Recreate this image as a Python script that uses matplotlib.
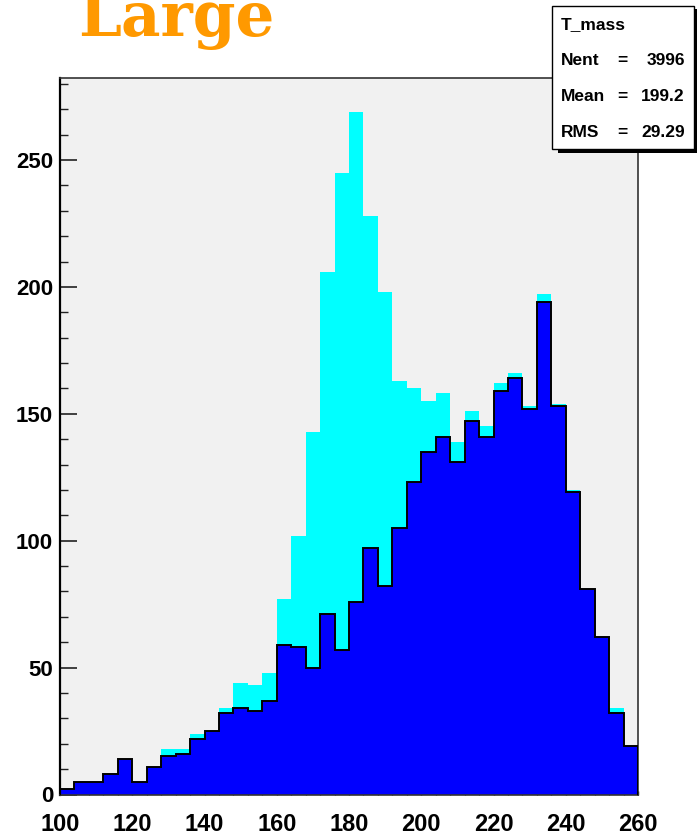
import matplotlib
matplotlib.use("Agg")
import matplotlib.pyplot as plt
from matplotlib.patches import Rectangle
from matplotlib.ticker import MultipleLocator
import numpy as np

# histogram: 40 bins of width 4 between 100 and 260
edges = np.arange(100, 264, 4)
total = [2, 5, 5, 8, 14, 5, 11, 18, 18, 24,
         25, 34, 44, 43, 48, 77, 102, 143, 206, 245,
         269, 228, 198, 163, 160, 155, 158, 139, 151, 145,
         162, 166, 153, 197, 154, 120, 81, 62, 34, 19]
subset = [2, 5, 5, 8, 14, 5, 11, 15, 16, 22,
          25, 32, 34, 33, 37, 59, 58, 50, 71, 57,
          76, 97, 82, 105, 123, 135, 141, 131, 147, 141,
          159, 164, 152, 194, 153, 119, 81, 62, 32, 19]
hist_name = "T_mass"
stats_names = ["Nent", "Mean", "RMS"]
stats_values = ["3996", "199.2", "29.29"]
title = "Large"

W, H = 697, 839
fig = plt.figure(figsize=(W / 100, H / 100), dpi=100)
fig.patch.set_facecolor("white")

# axes frame in pixel units
x0, x1, y_top, y_bot = 60, 638, 78, 794.5
ax = fig.add_axes([x0 / W, (H - y_bot) / H, (x1 - x0) / W, (y_bot - y_top) / H])
ax.set_facecolor("#f1f1f1")

ax.stairs(total, edges, fill=True, color="#00ffff", zorder=1)
ax.stairs(subset, edges, fill=True, color="#0000ff", zorder=2)
ax.stairs(subset, edges, fill=False, color="black", lw=1.4, zorder=3)

ax.set_xlim(100, 260)
ax.set_ylim(0, 282.3)

ax.xaxis.set_major_locator(MultipleLocator(20))
ax.xaxis.set_minor_locator(MultipleLocator(4))
ax.yaxis.set_major_locator(MultipleLocator(50))
ax.yaxis.set_minor_locator(MultipleLocator(10))

ax.tick_params(axis="y", which="major", direction="in", length=12, width=1.2,
               pad=5, color="#222222")
ax.tick_params(axis="y", which="minor", direction="in", length=6, width=1.0,
               color="#222222")
ax.tick_params(axis="x", which="major", direction="in", length=3, width=1.0,
               pad=13, color="#222222")
ax.tick_params(axis="x", which="minor", direction="in", length=1.5, width=0.8,
               color="#222222")
for t in ax.get_xticklabels():
    t.set_fontfamily("Liberation Sans")
    t.set_fontweight("bold")
    t.set_fontsize(17)
for t in ax.get_yticklabels():
    t.set_fontfamily("Liberation Sans")
    t.set_fontweight("bold")
    t.set_fontsize(16)

for s in ["top", "right", "bottom"]:
    ax.spines[s].set_color("#333333")
    ax.spines[s].set_linewidth(1.2)
ax.spines["left"].set_color("black")
ax.spines["left"].set_linewidth(1.6)

# title (cut at the top edge, as in the original)
fig.text(176 / W, 1 - 36 / H, title, ha="center", va="baseline",
         color="#ff9900", family="DejaVu Serif", weight="bold", fontsize=44)

# stats box with shadow
fig.add_artist(Rectangle((558 / W, 1 - 153 / H), (697 - 558) / W, (153 - 9) / H,
                         transform=fig.transFigure, facecolor="black",
                         edgecolor="none", zorder=5))
fig.add_artist(Rectangle((552 / W, 1 - 149 / H), (694 - 552) / W, (149 - 6) / H,
                         transform=fig.transFigure, facecolor="white",
                         edgecolor="black", lw=1.0, zorder=6))
st = dict(family="Liberation Sans", weight="bold", fontsize=12.5, zorder=7,
          va="baseline")
fig.text(561 / W, 1 - 29 / H, hist_name, ha="left", **st)
for i, (name, val) in enumerate(zip(stats_names, stats_values)):
    yb = 1 - (65 + 36 * i) / H
    fig.text(561 / W, yb, name, ha="left", **st)
    fig.text(622 / W, yb, "=", ha="center", **st)
    fig.text(685 / W, yb, val, ha="right", **st)

fig.savefig("out.png", dpi=100)
